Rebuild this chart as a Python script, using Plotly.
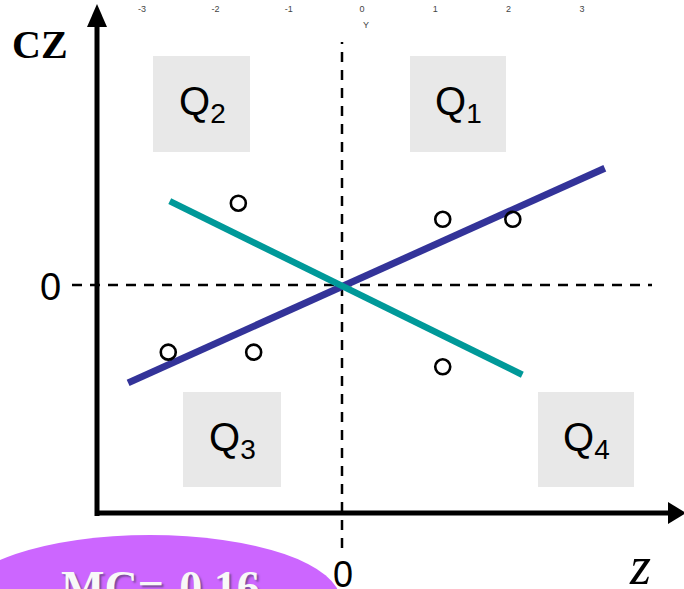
import plotly.graph_objects as go

# Standardised values z and their spatial lags (cz)
z_vals = [-2.38, -1.21, -1.42, 1.38, 2.34, 1.38]
cz_vals = [-0.92, -0.92, 1.12, 0.90, 0.90, -1.12]

# Two regression lines through the origin
pos_line_x = [-2.93, 3.60]
pos_line_y = [-1.34, 1.60]
neg_line_x = [-2.36, 2.47]
neg_line_y = [1.15, -1.23]

# Top reference axis
top_ticks = [-3, -2, -1, 0, 1, 2, 3]

W, H = 684, 589
UNIT = 73.0          # pixels per unit on the main axes
OX, OY = 342, 285    # pixel position of the origin


def px(x):
    return x / W


def py(y):
    return 1 - y / H


fig = go.Figure()

fig.add_trace(go.Scatter(
    x=pos_line_x, y=pos_line_y, mode="lines",
    line=dict(color="#333399", width=7), hoverinfo="skip", showlegend=False))
fig.add_trace(go.Scatter(
    x=neg_line_x, y=neg_line_y, mode="lines",
    line=dict(color="#009999", width=6.5), hoverinfo="skip", showlegend=False))
fig.add_trace(go.Scatter(
    x=z_vals, y=cz_vals, mode="markers",
    marker=dict(symbol="circle-open", size=15, color="black",
                line=dict(color="black", width=2.6)),
    showlegend=False))
# carrier for the top axis
fig.add_trace(go.Scatter(x=[0], y=[0], xaxis="x2", mode="markers",
                         marker=dict(opacity=0), hoverinfo="skip", showlegend=False))

shapes = []
# quadrant boxes
for (x0, y0, x1, y1) in [(153, 56, 250, 152), (410, 56, 506, 152),
                         (183, 392, 281, 487), (538, 392, 634, 487)]:
    shapes.append(dict(type="rect", xref="paper", yref="paper",
                       x0=px(x0), x1=px(x1), y0=py(y1), y1=py(y0),
                       fillcolor="#E8E8E8", line=dict(width=0), layer="below"))
# dashed zero lines
shapes.append(dict(type="line", xref="paper", yref="y", x0=px(72), x1=px(652), y0=0, y1=0,
                   line=dict(color="black", width=2.5, dash="10px,8px"), layer="below"))
shapes.append(dict(type="line", xref="x", yref="paper", x0=0, x1=0, y0=py(548), y1=py(42),
                   line=dict(color="black", width=2.5, dash="10px,8px"), layer="below"))
# axis frame with arrows
shapes.append(dict(type="line", xref="paper", yref="paper", x0=px(97), x1=px(97),
                   y0=py(516), y1=py(22), line=dict(color="black", width=5)))
shapes.append(dict(type="line", xref="paper", yref="paper", x0=px(95), x1=px(672),
                   y0=py(513), y1=py(513), line=dict(color="black", width=5)))
shapes.append(dict(type="path", xref="paper", yref="paper",
                   path=f"M {px(97)} {py(4)} L {px(87)} {py(27)} L {px(107)} {py(27)} Z",
                   fillcolor="black", line=dict(width=0)))
shapes.append(dict(type="path", xref="paper", yref="paper",
                   path=f"M {px(686)} {py(513)} L {px(668)} {py(502)} L {px(668)} {py(524)} Z",
                   fillcolor="black", line=dict(width=0)))
# label ellipse
shapes.append(dict(type="circle", xref="paper", yref="paper",
                   x0=px(-40), x1=px(340), y0=py(665), y1=py(535),
                   fillcolor="#CC66FF", line=dict(width=0)))


def label(txt, cx, cy, family, size, color="black", **font_extra):
    return dict(text=txt, x=px(cx), y=py(cy), xref="paper", yref="paper",
                xanchor="center", yanchor="middle", showarrow=False,
                font=dict(family=family, size=size, color=color, **font_extra))


SANS = "Arial, Liberation Sans"
SERIF = "Liberation Serif, Times New Roman"

annotations = []
for txt, cx, cy in [("Q<sub>2</sub>", 202, 104), ("Q<sub>1</sub>", 458, 104),
                    ("Q<sub>3</sub>", 232, 440), ("Q<sub>4</sub>", 586, 440)]:
    annotations.append(label(txt, cx, cy, SANS, 40))
annotations += [
    label("<b>CZ</b>", 40, 44, SERIF, 40),
    label("0", 50, 287, SANS, 38),
    label("0", 343, 574, SANS, 36),
    label("<i>z</i>", 640, 566, SERIF, 54),
    label("<b>MC=-0.16</b>", 160, 587, SERIF, 46, color="#F8F8F8",
          shadow="2px 2px 2px #7a4a99"),
    label("Y", 366, 25, SANS, 9, color="#444"),
]

TOP_UNIT = 73.3
TOP_ZERO = 362

fig.update_layout(
    width=W, height=H,
    margin=dict(l=0, r=0, t=0, b=0),
    paper_bgcolor="white", plot_bgcolor="white",
    xaxis=dict(range=[-OX / UNIT, (W - OX) / UNIT], visible=False, domain=[0, 1]),
    yaxis=dict(range=[-(H - OY) / UNIT, OY / UNIT], visible=False, domain=[0, 1]),
    xaxis2=dict(range=[-TOP_ZERO / TOP_UNIT, (W - TOP_ZERO) / TOP_UNIT],
                overlaying="x", anchor="free", position=0.996, side="bottom",
                tickvals=top_ticks, ticktext=[str(t) for t in top_ticks],
                showgrid=False, zeroline=False, showline=False, ticks="",
                tickfont=dict(family=SANS, size=9, color="#444")),
    shapes=shapes,
    annotations=annotations,
)

fig.write_html("out.html")
